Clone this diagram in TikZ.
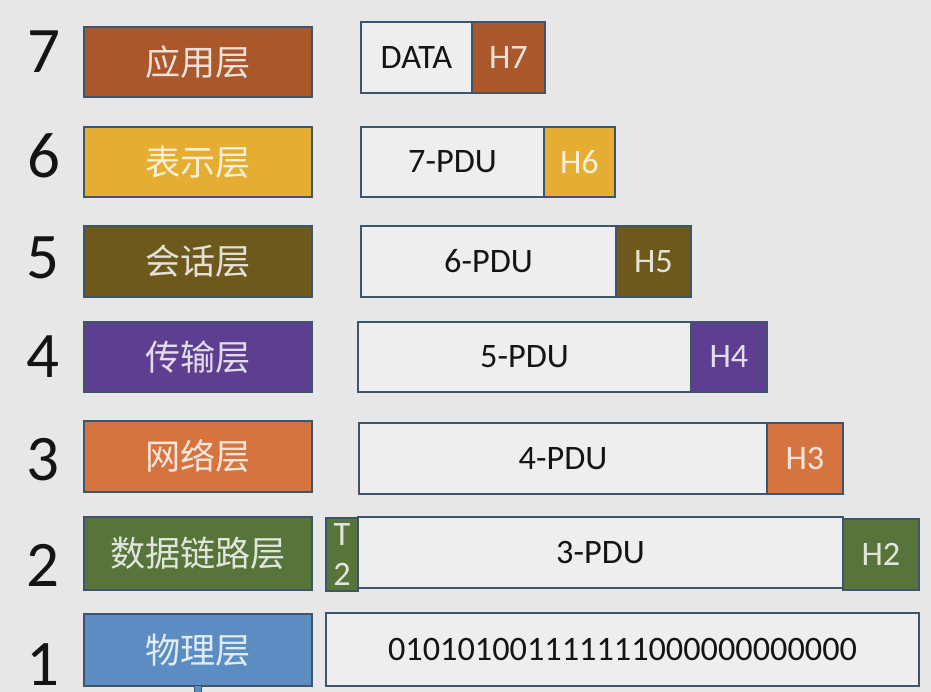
\documentclass[tikz,border=0pt]{standalone}
\usepackage{fontspec}
\setmainfont{Carlito}
\newfontfamily\cjk{Noto Sans CJK SC}
\definecolor{bg}{HTML}{E7E7E7}
\definecolor{boxfill}{HTML}{EEEEEE}
\definecolor{edgec}{HTML}{3E546A}
\definecolor{cA}{HTML}{A9572B}
\definecolor{cB}{HTML}{E5AD31}
\definecolor{cC}{HTML}{6D591B}
\definecolor{cD}{HTML}{5E3E90}
\definecolor{cE}{HTML}{D6743F}
\definecolor{cF}{HTML}{57743A}
\definecolor{cG}{HTML}{5B8DC3}
\newcommand\bx[7]{\node[#6, minimum width={(#4-#2)*0.02cm}, minimum height={(#5-#3)*0.02cm}] (#1) at ({(#2+#4)/2},{(#3+#5)/2}) {#7};}
\tikzset{
  base/.style={draw=edgec, line width=0.6pt, inner sep=0pt, outer sep=0pt},
  layer/.style={base, fill=#1, text=white!82!#1, font=\cjk\fontsize{20}{24}\selectfont},
  pdu/.style={base, fill=boxfill, text=black!92, font=\fontsize{19.5}{23}\selectfont},
  hdr/.style={base, fill=#1, text=white!82!#1, font=\fontsize{19.5}{23}\selectfont},
  num/.style={inner sep=0pt, text=black!92, font=\fontsize{37}{40}\selectfont}
}
\begin{document}
\begin{tikzpicture}[x=0.02cm, y=-0.02cm]
\fill[bg] (0,0) rectangle (931,692);
\useasboundingbox (0,0) rectangle (931,692);
% numbers
\node[num] (n7) at (44,52) {7};
\node[num] (n6) at (44,156) {6};
\node[num] (n5) at (43,258) {5};
\node[num] (n4) at (43,357) {4};
\node[num] (n3) at (43,460) {3};
\node[num] (n2) at (43,565) {2};
\node[num] (n1) at (43,665) {1};
% layers
\bx{l7}{84}{27}{312}{97}{layer=cA}{应用层}
\bx{l6}{84}{127}{312}{197}{layer=cB}{表示层}
\bx{l5}{84}{226}{312}{297}{layer=cC}{会话层}
\bx{l4}{84}{322}{312}{392}{layer=cD}{传输层}
\bx{l3}{84}{421}{312}{492}{layer=cE}{网络层}
\bx{l2}{84}{517}{312}{590}{layer=cF}{数据链路层}
\bx{l1}{84}{614}{312}{686}{layer=cG}{物理层}
\coordinate (stem) at (198,700);
\draw[edgec, line width=5pt] (l1.south) -- (stem);
\draw[cG, line width=3.8pt] (l1.south) -- (stem);
% PDUs
\bx{d7}{361}{22}{472}{93}{pdu}{DATA}
\bx{h7}{472}{22}{545}{93}{hdr=cA}{H7}
\bx{d6}{361}{127}{544}{197}{pdu}{7-PDU}
\bx{h6}{544}{127}{615}{197}{hdr=cB}{H6}
\bx{d5}{361}{226}{616}{297}{pdu}{6-PDU}
\bx{h5}{616}{226}{691}{297}{hdr=cC}{H5}
\bx{d4}{358}{322}{691}{392}{pdu}{5-PDU}
\bx{h4}{691}{322}{767}{392}{hdr=cD}{H4}
\bx{d3}{359}{423}{767}{494}{pdu}{4-PDU}
\bx{h3}{767}{423}{843}{494}{hdr=cE}{H3}
\bx{t2}{326}{518}{358}{591}{hdr=cF, align=center, font=\fontsize{19.5}{23}\selectfont}{T\\2}
\bx{d2}{358}{517}{843}{588}{pdu}{3-PDU}
\bx{h2}{843}{519}{919}{590}{hdr=cF}{H2}
\bx{d1}{326}{613}{919}{686}{pdu}{010101001111111000000000000}
\end{tikzpicture}
\end{document}
